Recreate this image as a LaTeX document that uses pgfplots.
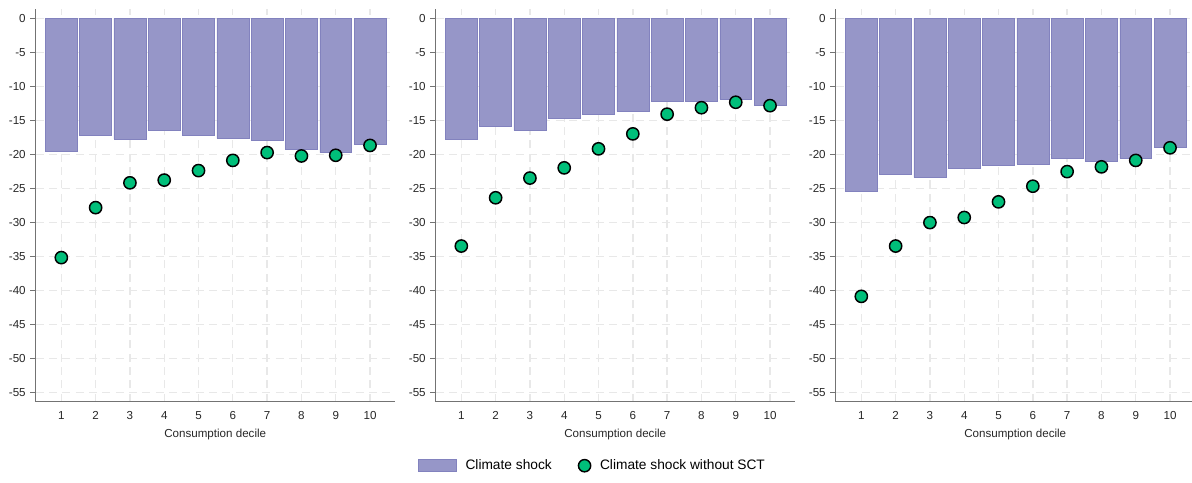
\documentclass[border=0pt]{standalone}
\usepackage{fontspec}
\setmainfont{Liberation Sans}
\usepackage{pgfplots}
\pgfplotsset{compat=1.18}
\definecolor{barfill}{RGB}{150,150,200}
\definecolor{baredge}{RGB}{130,130,190}
\definecolor{dotgreen}{RGB}{0,191,122}
\definecolor{gridc}{RGB}{232,232,232}
\definecolor{axisc}{RGB}{115,115,115}
\pgfplotsset{
 panel/.style={
  scale only axis, width=269.25pt, height=294.3pt,
  xmin=0.254, xmax=10.72, ymin=-56.4, ymax=1.32,
  axis x line*=bottom, axis y line*=left,
  axis line style={axisc, line width=1.1pt, -},
  xtick={1,...,10}, ytick={-55,-50,...,0},
  x tick style={draw=none},
  y tick style={axisc, line width=0.8pt},
  tick align=outside, major tick length=4pt,
  grid=major, major grid style={gridc, dash pattern=on 6pt off 4pt, line width=1pt},
  tick label style={font=\fontsize{8.7}{10}\selectfont, text=black!85},
  xlabel={Consumption decile},
  xlabel style={font=\fontsize{8.7}{10}\selectfont, text=black!85, yshift=0pt},
  /pgf/number format/assume math mode=true,
  clip=false,
 },
 barst/.style={ybar, bar width=0.93, fill=barfill, draw=baredge, line width=0.4pt},
 dotst/.style={only marks, mark=*, mark size=4.6pt, mark options={fill=dotgreen, draw=black, line width=1.1pt}},
}
\begin{document}
\begin{tikzpicture}
\useasboundingbox (0,0) rectangle (894pt,361.5pt);
% Panel 1
\begin{axis}[panel, at={(26.8pt,60.2pt)}, anchor=south west]
\addplot[barst] coordinates {(1,-19.6) (2,-17.2) (3,-17.75) (4,-16.5) (5,-17.15) (6,-17.65) (7,-17.9) (8,-19.3) (9,-19.75) (10,-18.6)};
\addplot[dotst] coordinates {(1,-35.2) (2,-27.85) (3,-24.2) (4,-23.8) (5,-22.4) (6,-20.9) (7,-19.75) (8,-20.25) (9,-20.15) (10,-18.7)};
\end{axis}
% Panel 2
\begin{axis}[panel, at={(326.8pt,60.2pt)}, anchor=south west,
  legend style={at={(0.437,-0.163)}, anchor=center, draw=none, fill=none,
    legend columns=2, font=\fontsize{10.3}{12}\selectfont,
    /tikz/every odd column/.append style={column sep=5pt},
    /tikz/every even column/.append style={column sep=18pt},
    legend cell align=left}]
\addplot[barst, legend image code/.code={\fill[barfill,draw=baredge,line width=0.4pt] (0pt,-4.5pt) rectangle (28.5pt,4.5pt);}] coordinates {(1,-17.75) (2,-15.9) (3,-16.5) (4,-14.75) (5,-14.1) (6,-13.7) (7,-12.2) (8,-12.2) (9,-11.9) (10,-12.8)};
\addlegendentry{Climate shock}
\addplot[dotst] coordinates {(1,-33.5) (2,-26.4) (3,-23.5) (4,-22.0) (5,-19.2) (6,-17.0) (7,-14.1) (8,-13.15) (9,-12.35) (10,-12.85)};
\addlegendentry{Climate shock without SCT}
\end{axis}
% Panel 3
\begin{axis}[panel, at={(626.8pt,60.2pt)}, anchor=south west]
\addplot[barst] coordinates {(1,-25.45) (2,-22.95) (3,-23.4) (4,-22.05) (5,-21.6) (6,-21.5) (7,-20.6) (8,-21.0) (9,-20.55) (10,-18.9)};
\addplot[dotst] coordinates {(1,-40.9) (2,-33.5) (3,-30.05) (4,-29.3) (5,-27.0) (6,-24.7) (7,-22.55) (8,-21.85) (9,-20.9) (10,-19.05)};
\end{axis}
\end{tikzpicture}
\end{document}
